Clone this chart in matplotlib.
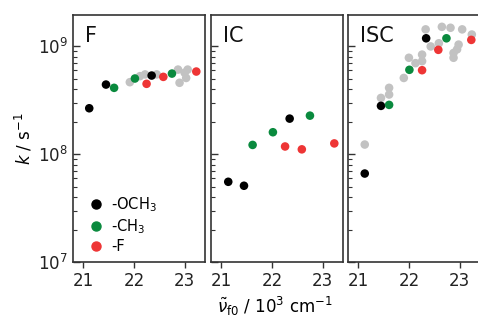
import matplotlib
matplotlib.use('Agg')
import matplotlib.pyplot as plt
from matplotlib.lines import Line2D
import numpy as np

# colours of the substituent series
c_och3 = '#000000'
c_ch3 = '#0a8a3e'
c_f = '#ee3535'
c_gray = '#c2c2c2'

# ---- panel F ----
F_gray_x = [21.92, 22.12, 22.22, 22.45, 22.87, 23.00, 23.03, 22.90, 23.06]
F_gray_y = [4.66e8, 5.3e8, 5.5e8, 5.5e8, 6.1e8, 5.7e8, 5.1e8, 4.6e8, 6.1e8]
F_och3_x = [21.12, 21.45, 22.35]
F_och3_y = [2.67e8, 4.43e8, 5.37e8]
F_ch3_x = [21.61, 22.02, 22.75]
F_ch3_y = [4.13e8, 5.04e8, 5.6e8]
F_f_x = [22.25, 22.58, 23.23]
F_f_y = [4.5e8, 5.22e8, 5.85e8]

# ---- panel IC ----
IC_och3_x = [21.14, 21.45, 22.35]
IC_och3_y = [5.55e7, 5.1e7, 2.14e8]
IC_ch3_x = [21.62, 22.02, 22.75]
IC_ch3_y = [1.22e8, 1.6e8, 2.28e8]
IC_f_x = [22.26, 22.59, 23.23]
IC_f_y = [1.18e8, 1.11e8, 1.26e8]

# ---- panel ISC ----
ISC_gray_x = [21.13, 21.45, 21.61, 21.61, 21.90, 22.00, 22.13, 22.26, 22.26,
              22.33, 22.43, 22.59, 22.65, 22.82, 22.88, 22.88, 22.95, 22.98,
              23.05, 23.24]
ISC_gray_y = [1.23e8, 3.33e8, 3.58e8, 4.13e8, 5.1e8, 7.85e8, 7.0e8, 7.3e8, 8.4e8,
              1.44e9, 1.0e9, 1.07e9, 1.52e9, 1.49e9, 7.85e8, 8.7e8, 9.4e8, 1.04e9,
              1.44e9, 1.29e9]
ISC_och3_x = [21.13, 21.45, 22.34]
ISC_och3_y = [6.62e7, 2.81e8, 1.19e9]
ISC_ch3_x = [21.61, 22.01, 22.74]
ISC_ch3_y = [2.87e8, 6.07e8, 1.19e9]
ISC_f_x = [22.26, 22.58, 23.23]
ISC_f_y = [6.02e8, 9.3e8, 1.15e9]

panel_names = ['F', 'IC', 'ISC']
legend_labels = ['-OCH$_3$', '-CH$_3$', '-F']

fig = plt.figure(figsize=(4.78, 3.3), dpi=100)
lefts = [73 / 478, 211 / 478, 348 / 478]
axes = [fig.add_axes([l, 0.206, 0.276, 0.748]) for l in lefts]

panels = [
    (F_gray_x, F_gray_y, F_och3_x, F_och3_y, F_ch3_x, F_ch3_y, F_f_x, F_f_y),
    ([], [], IC_och3_x, IC_och3_y, IC_ch3_x, IC_ch3_y, IC_f_x, IC_f_y),
    (ISC_gray_x, ISC_gray_y, ISC_och3_x, ISC_och3_y, ISC_ch3_x, ISC_ch3_y, ISC_f_x, ISC_f_y),
]

ms = 38
for ax, name, p in zip(axes, panel_names, panels):
    gx, gy, ox, oy, cx, cy, fx, fy = p
    ax.scatter(gx, gy, s=ms, c=c_gray, edgecolors='none', zorder=2)
    ax.scatter(ox, oy, s=ms, c=c_och3, edgecolors='none', zorder=3)
    ax.scatter(cx, cy, s=ms, c=c_ch3, edgecolors='none', zorder=3)
    ax.scatter(fx, fy, s=ms, c=c_f, edgecolors='none', zorder=3)
    ax.set_yscale('log')
    ax.set_xlim(20.8, 23.4)
    ax.set_ylim(1e7, 1.95e9)
    ax.set_xticks([21, 22, 23])
    for s in ax.spines.values():
        s.set_color('#333333')
        s.set_linewidth(1.2)
    ax.tick_params(axis='x', direction='out', length=4, width=1, colors='#333333',
                   labelsize=12, labelcolor='#222222')
    ax.tick_params(axis='y', which='both', direction='in', colors='#333333',
                   labelsize=12, labelcolor='#222222')
    ax.tick_params(axis='y', which='major', length=5, width=1)
    ax.tick_params(axis='y', which='minor', length=3, width=0.8)
    ax.text(0.09, 0.955, name, transform=ax.transAxes, fontsize=15,
            va='top', ha='left', color='#111111')
    if ax is not axes[0]:
        ax.tick_params(axis='y', which='both', labelleft=False)

axes[0].set_yticks([1e7, 1e8, 1e9])
axes[0].set_ylabel('$k$ / s$^{-1}$', fontsize=12, labelpad=3)

handles = [Line2D([], [], marker='o', ls='none', color=c, markersize=6.5)
           for c in [c_och3, c_ch3, c_f]]
axes[0].legend(handles, legend_labels, loc='lower left', frameon=False,
               fontsize=10.5, handletextpad=0.05, labelspacing=0.2,
               borderaxespad=0.0, bbox_to_anchor=(0.02, 0.01))

fig.text(0.575, 0.035, r'$\tilde{\nu}_{\mathrm{f0}}$ / 10$^3$ cm$^{-1}$',
         fontsize=12, ha='center', va='bottom')

fig.savefig('out.png', dpi=100)
